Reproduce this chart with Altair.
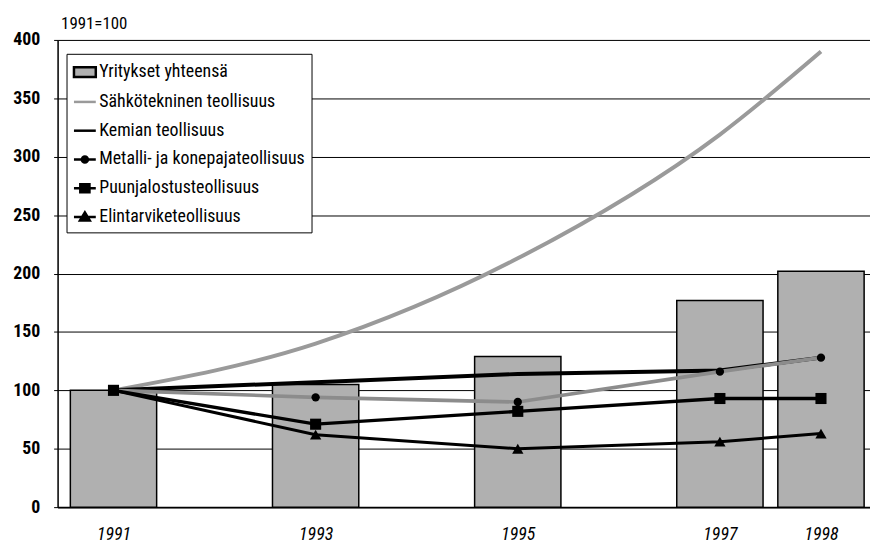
import altair as alt
import pandas as pd

years = [1991, 1993, 1995, 1997, 1998]
series_names = [
    "Yritykset yhteensä",
    "Sähkötekninen teollisuus",
    "Kemian teollisuus",
    "Metalli- ja konepajateollisuus",
    "Puunjalostusteollisuus",
    "Elintarviketeollisuus",
]
yritykset = [100, 105, 129, 177, 202]
sahko = [100, 140, 213, 319, 390]
kemian = [100, 107, 114, 117, 128]
metalli = [100, 94, 90, 116, 128]
puu = [100, 71, 82, 93, 93]
elintarvike = [100, 62, 50, 56, 63]
y_ticks = [0, 50, 100, 150, 200, 250, 300, 350, 400]

FONT = "Liberation Sans Narrow, Arial Narrow, Roboto Condensed, sans-serif"

bars_df = pd.DataFrame({"year": years, "value": yritykset, "series": series_names[0]})
line_series = {
    series_names[1]: sahko,
    series_names[2]: kemian,
    series_names[3]: metalli,
    series_names[4]: puu,
    series_names[5]: elintarvike,
}
rows = []
for name, vals in line_series.items():
    for yr, v in zip(years, vals):
        rows.append({"year": yr, "value": v, "series": name})
lines_df = pd.DataFrame(rows)
legend_df = pd.DataFrame({"series": series_names})

x_enc = alt.X(
    "year:Q",
    scale=alt.Scale(domain=[1990.496, 1998.436], nice=False, zero=False),
    axis=alt.Axis(values=years, format="d", grid=False, ticks=False, labelFontStyle="italic",
                  labelFontSize=18, labelPadding=19, labelFont=FONT, labelColor="black",
                  domainColor="black", domainWidth=2, title=None, labelFlush=False),
)
y_enc = alt.Y(
    "value:Q",
    scale=alt.Scale(domain=[0, 400], nice=False),
    axis=alt.Axis(values=y_ticks, grid=True, gridColor="black", gridWidth=1, tickColor="black",
                  tickSize=4, labelFontSize=18, labelFont=FONT, labelFontWeight="bold",
                  labelColor="black", labelPadding=14, domainColor="black", domainWidth=1.5,
                  title="1991=100", titleAngle=0, titleFont=FONT, titleFontSize=17,
                  titleFontWeight="normal", titleColor="black", titleX=3, titleY=-17,
                  titleAlign="left", titleBaseline="middle"),
)

bars = alt.Chart(bars_df).mark_bar(size=87, fill="#b0b0b0", stroke="black", strokeWidth=1.5).encode(
    x=x_enc, y=y_enc
)

sahko_line = alt.Chart(lines_df[lines_df["series"] == series_names[1]]).mark_line(
    interpolate="monotone", color="#9a9a9a", strokeWidth=4
).encode(x=alt.X("year:Q"), y=alt.Y("value:Q"))

other_lines = alt.Chart(lines_df[lines_df["series"] != series_names[1]]).mark_line(
    interpolate="linear"
).encode(
    x=alt.X("year:Q"),
    y=alt.Y("value:Q"),
    color=alt.Color("series:N", legend=None,
                    scale=alt.Scale(domain=series_names[2:],
                                    range=["black", "#8c8c8c", "black", "black"])),
    strokeWidth=alt.StrokeWidth("series:N", legend=None,
                                scale=alt.Scale(domain=series_names[2:], range=[4, 3, 4, 2.5])),
    detail="series:N",
)

marker_shapes = {series_names[3]: ("circle", 70), series_names[4]: ("square", 125),
                 series_names[5]: ("triangle-up", 130)}
point_layers = []
for name, (shp, sz) in marker_shapes.items():
    point_layers.append(
        alt.Chart(lines_df[lines_df["series"] == name]).mark_point(
            filled=True, shape=shp, size=sz, color="black", opacity=1
        ).encode(x=alt.X("year:Q"), y=alt.Y("value:Q"))
    )

legend_shapes = [
    "M-1,-0.45H1V0.45H-1Z",
    "M-1,0H1",
    "M-1,0H1",
    "M-1,0H1M-0.28,0A0.28,0.28 0 1,0 0.28,0A0.28,0.28 0 1,0 -0.28,0Z",
    "M-1,0H1M-0.42,-0.36H0.42V0.36H-0.42Z",
    "M-1,0H1M0,-0.42L0.45,0.32H-0.45Z",
]
legend = alt.Legend(
    orient="none", legendX=9, legendY=14, title=None, strokeColor="black", fillColor="white",
    padding=6, labelFont=FONT, labelFontSize=18, labelColor="black", rowPadding=7,
    symbolSize=484, symbolStrokeWidth=2.5, labelOffset=2, symbolOpacity=1, labelLimit=0,
)
legend_layer = alt.Chart(legend_df).transform_filter("datum.series == 'none'").mark_point(
    filled=True, opacity=1
).encode(
    fill=alt.Fill("series:N", legend=legend,
                  scale=alt.Scale(domain=series_names,
                                  range=["#b0b0b0", "#9a9a9a", "black", "black", "black", "black"])),
    stroke=alt.Stroke("series:N", legend=legend,
                      scale=alt.Scale(domain=series_names,
                                      range=["black", "#9a9a9a", "black", "black", "black", "black"])),
    shape=alt.Shape("series:N", legend=legend,
                    scale=alt.Scale(domain=series_names, range=legend_shapes)),
)

chart = alt.layer(bars, sahko_line, other_lines, *point_layers, legend_layer).properties(
    width=819, height=471,
    autosize=alt.AutoSizeParams(type="none"),
    padding={"left": 50, "top": 30, "right": 0, "bottom": 38},
).configure_view(stroke="black", strokeWidth=1.5).configure(background="white")

chart.save("out.html", embed_options={"renderer": "svg", "actions": False})
